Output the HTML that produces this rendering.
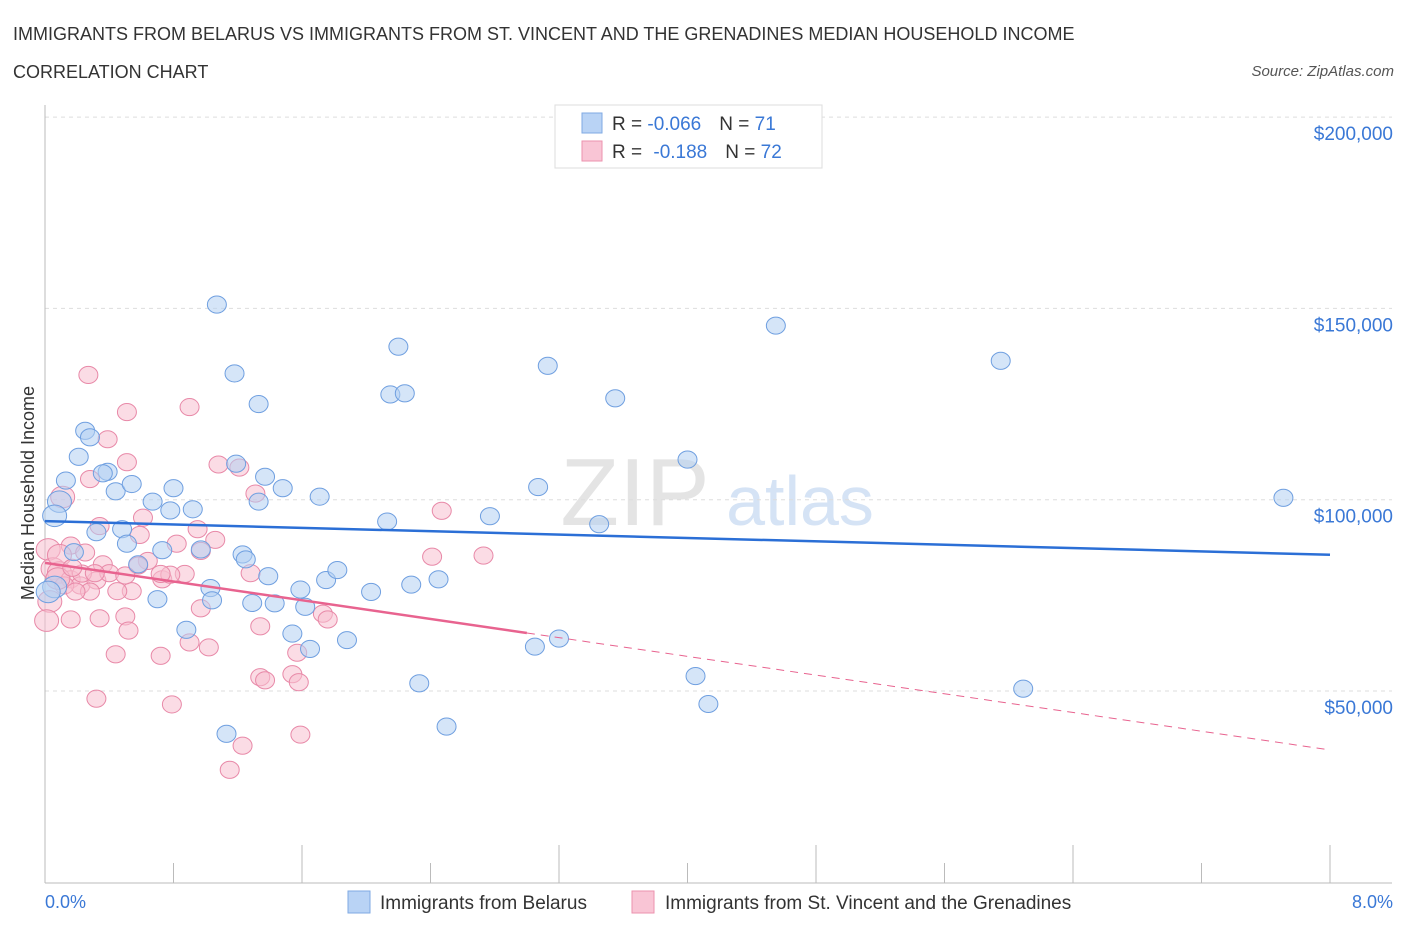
<!DOCTYPE html>
<html><head><meta charset="utf-8"><style>
body{margin:0;background:#fff;font-family:"Liberation Sans",sans-serif;}
svg text{font-family:"Liberation Sans",sans-serif;}
</style></head><body>
<svg id="c" width="1406" height="930" xmlns="http://www.w3.org/2000/svg">
<text x="13" y="40" font-size="18" fill="#333">IMMIGRANTS FROM BELARUS VS IMMIGRANTS FROM ST. VINCENT AND THE GRENADINES MEDIAN HOUSEHOLD INCOME</text>
<text x="13" y="78" font-size="18" fill="#333">CORRELATION CHART</text>
<text x="1394" y="76" font-size="15" fill="#555" font-style="italic" text-anchor="end">Source: ZipAtlas.com</text>
<text x="635" y="525" font-size="96" fill="#e4e4e4" font-family="Liberation Serif" text-anchor="middle">ZIP</text>
<text x="800" y="525" font-size="70" fill="#d5e3f5" text-anchor="middle">atlas</text>
<g id="grid"></g><g id="axes"></g><g id="pts"></g><g id="trend"></g>
<text transform="translate(34,493) rotate(-90)" font-size="18" fill="#333" text-anchor="middle">Median Household Income</text>
<text x="45" y="908" font-size="18" fill="#3a78d6">0.0%</text>
<text x="1393" y="908" font-size="18" fill="#3a78d6" text-anchor="end">8.0%</text>
<g>
<rect x="555" y="105" width="267" height="63" fill="#fff" stroke="#ddd"/>
<rect x="582" y="113" width="20" height="20" fill="#b9d3f5" stroke="#7fa9e3"/>
<text x="612" y="130" font-size="19" fill="#333">R = <tspan fill="#3a78d6">-0.066</tspan><tspan dx="18">N = </tspan><tspan fill="#3a78d6">71</tspan></text>
<rect x="582" y="141" width="20" height="20" fill="#f9c5d5" stroke="#ec92ae"/>
<text x="612" y="158" font-size="19" fill="#333">R = <tspan dx="6" fill="#3a78d6">-0.188</tspan><tspan dx="18">N = </tspan><tspan fill="#3a78d6">72</tspan></text>
</g>
<g>
<rect x="348" y="891" width="22" height="22" fill="#b9d3f5" stroke="#7fa9e3"/>
<text x="380" y="909" font-size="19" fill="#333">Immigrants from Belarus</text>
<rect x="632" y="891" width="22" height="22" fill="#f9c5d5" stroke="#ec92ae"/>
<text x="665" y="909" font-size="19" fill="#333">Immigrants from St. Vincent and the Grenadines</text>
</g>
</svg>
<script>
const yTicks=[50000,100000,150000,200000];
const yTickLabels=["$50,000","$100,000","$150,000","$200,000"];
const xTicks=[0,0.8,1.6,2.4,3.2,4.0,4.8,5.6,6.4,7.2,8.0];
const belarusX=[1.07,1.18,1.33,2.2,2.15,2.24,3.13,3.55,4.55,5.95,7.71,0.25,0.28,0.21,0.13,0.09,0.06,0.39,0.36,0.44,0.54,0.67,0.8,0.92,0.78,0.48,0.32,0.51,0.18,0.73,0.97,1.19,1.37,1.48,1.33,1.23,1.25,1.71,2.13,3.07,2.77,3.45,4.0,1.03,0.7,1.04,1.29,1.43,1.39,1.59,1.62,1.75,1.82,2.03,2.28,2.45,0.88,1.54,1.65,1.88,3.05,3.2,2.33,2.5,1.13,4.05,4.13,6.09,0.58,0.06,0.02];
const belarusY=[151000,133000,125000,140000,127500,127800,135000,126500,145500,136300,100500,118000,116300,111200,105000,99500,95800,107300,106900,102200,104100,99500,103000,97500,97200,92300,91500,88500,86300,86800,87000,109400,106000,103000,99500,85700,84400,100800,94300,103300,95700,93600,110500,76900,74000,73700,73000,72900,80000,76500,72000,79000,81600,75900,77800,79200,66000,65000,61000,63300,61600,63700,52000,40700,38800,53900,46600,50600,83100,77200,75900];
const vincentX=[0.27,0.51,0.9,0.39,0.51,0.28,0.11,0.34,0.16,0.25,0.02,0.05,0.09,0.16,0.22,0.32,0.12,0.08,0.36,0.4,0.28,0.19,0.03,0.01,0.16,0.34,0.54,0.45,0.61,0.59,0.82,0.95,1.06,1.08,1.21,1.31,0.97,0.64,0.58,0.73,1.28,1.34,0.97,0.5,0.52,0.44,0.72,0.9,1.02,0.32,0.79,1.34,1.37,1.54,1.58,1.59,1.23,1.15,1.57,1.73,1.76,2.41,2.73,2.47,0.87,0.78,0.23,0.09,0.5,0.17,0.72,0.31];
const vincentY=[132600,122900,124200,115800,109800,105400,100700,93100,88000,86200,87000,82000,81000,79200,77600,78900,77600,79400,83100,80800,76000,76000,73400,68400,68700,69000,76100,76100,95300,90800,88500,92300,89500,109200,108400,101600,86600,84000,82800,79200,80800,66900,71600,69500,65800,59600,59200,62700,61400,48000,46500,53600,52800,54400,52300,38600,35700,29400,60000,70200,68700,85100,85400,97100,80600,80400,80700,85500,80200,82200,80600,80800];
const belarusTrend=[94400,85600];
const vincentTrend=[83500,34600];
const NS='http://www.w3.org/2000/svg';
const X=v=>45+v/8*1285, Y=v=>882.3-v/50000*191.3;
function mk(tag,attrs,parent){const e=document.createElementNS(NS,tag);for(const k in attrs)e.setAttribute(k,attrs[k]);document.getElementById(parent).appendChild(e);return e;}
yTicks.forEach((t,i)=>{
 const l=mk('line',{x1:45,x2:1392,y1:Y(t),y2:Y(t),stroke:'#ddd','stroke-dasharray':'4,4'},'grid');
 
 
 const tx=mk('text',{x:1393,y:Y(t)+23,'font-size':19,fill:'#3a78d6','text-anchor':'end'},'grid');
 tx.textContent=yTickLabels[i];
 
 
});
const ya=mk('line',{x1:45,x2:45,y1:105,y2:883,stroke:'#bbb'},'axes');


const xa=mk('line',{x1:45,x2:1392,y1:883,y2:883,stroke:'#bbb'},'axes');


xTicks.forEach((t,i)=>{if(i==0)return;
 const l=mk('line',{x1:X(t),x2:X(t),y1:(i%2==0?845:863),y2:883,stroke:'#bbb'},'axes');
 
 
});
function pts(xs,ys,fill,stroke,name){xs.forEach((x,i)=>{
 const r=(x<0.12)?12:9.5;
 const c=mk('ellipse',{cx:X(x),cy:Y(ys[i]),rx:r,ry:r*0.9,fill:fill,'fill-opacity':0.55,stroke:stroke,'stroke-width':1},'pts');
 
 
});}
pts(vincentX,vincentY,'#f7bfd0','#e889a8','vincent-point');
pts(belarusX,belarusY,'#b3cff3','#6f9fe0','belarus-point');
const bt=mk('line',{x1:X(0),y1:Y(belarusTrend[0]),x2:X(8),y2:Y(belarusTrend[1]),stroke:'#2b6fd6','stroke-width':2.5},'trend');


const xs=3.0, ym=vincentTrend[0]+(vincentTrend[1]-vincentTrend[0])*xs/8;
const vt=mk('line',{x1:X(0),y1:Y(vincentTrend[0]),x2:X(xs),y2:Y(ym),stroke:'#e8638f','stroke-width':2.5},'trend');


const vd=mk('line',{x1:X(xs),y1:Y(ym),x2:X(8),y2:Y(vincentTrend[1]),stroke:'#e8638f','stroke-width':1,'stroke-dasharray':'8,6'},'trend');


</script>
</body></html>
